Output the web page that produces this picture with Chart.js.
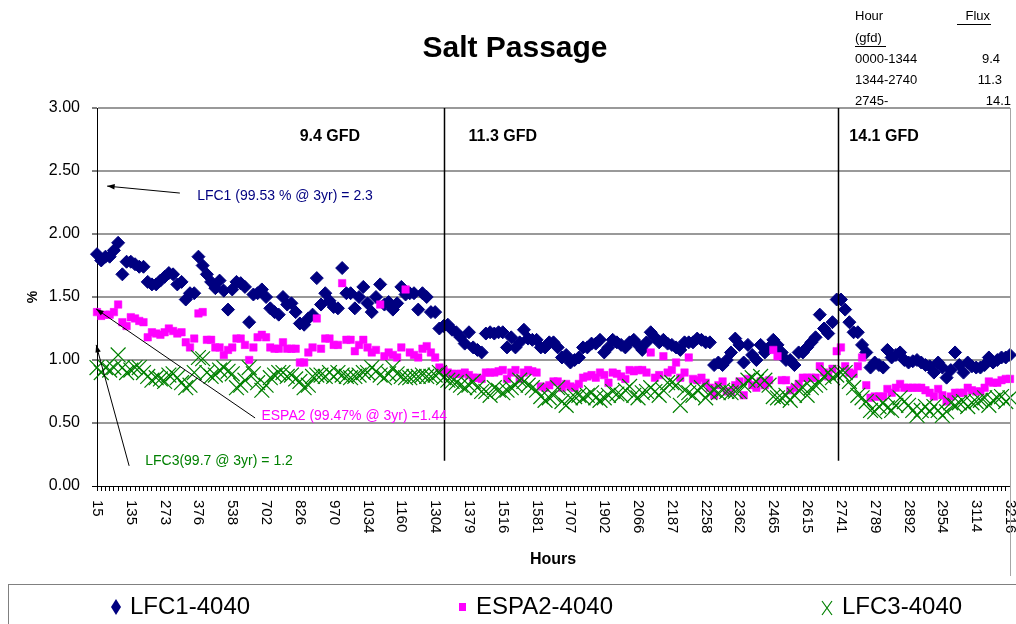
<!DOCTYPE html>
<html>
<head>
<meta charset="utf-8">
<title>Salt Passage</title>
<script src="https://cdn.jsdelivr.net/npm/chart.js@4.4.1/dist/chart.umd.min.js"></script>
<style>
  html, body { margin: 0; padding: 0; background: #fff; }
  #wrap { position: relative; width: 1016px; height: 624px; overflow: hidden; font-family: Arial, "Liberation Sans", sans-serif; }
  #legend { position: absolute; left: 8px; top: 584px; width: 1020px; height: 60px; border: 1px solid #808080; box-sizing: border-box; }
  .lg-text { position: absolute; top: 7px; font-size: 24px; line-height: 28px; color: #000; white-space: nowrap; }
  .lg-mark { position: absolute; }
</style>
</head>
<body>
<div id="wrap">
  <canvas id="chart" width="1016" height="624"></canvas>
  <div id="legend">
    <svg class="lg-mark" style="left:102px;top:14px" width="10" height="16"><polygon points="5,0 10,8 5,16 0,8" fill="#000080"/></svg>
    <span class="lg-text" style="left:121px">LFC1-4040</span>
    <svg class="lg-mark" style="left:450px;top:18px" width="7" height="8"><rect x="0" y="0" width="7" height="8" fill="#ff00ff"/></svg>
    <span class="lg-text" style="left:467px">ESPA2-4040</span>
    <svg class="lg-mark" style="left:812px;top:15px" width="12" height="16"><path d="M1 1 L11 15 M11 1 L1 15" stroke="#008000" stroke-width="1.2" fill="none"/></svg>
    <span class="lg-text" style="left:833px">LFC3-4040</span>
  </div>
</div>
<script>
// hour labels shown on the x axis, one every LABEL_STEP samples
const hourLabels = ['15', '135', '273', '376', '538', '702', '826', '970', '1034', '1160', '1304', '1379', '1516', '1581',
  '1707', '1902', '2066', '2187', '2258', '2362', '2465', '2615', '2741', '2789', '2892', '2954', '3114', '3216'];
const LABEL_STEP = 8;

// salt passage (%) per sample
const lfc1 = [
  1.84, 1.79, 1.82, 1.82, 1.87, 1.93, 1.68, 1.78,
  1.78, 1.76, 1.74, 1.74, 1.62, 1.60, 1.60, 1.63,
  1.66, 1.69, 1.68, 1.60, 1.62, 1.48, 1.53, 1.53,
  1.82, 1.75, 1.68, 1.62, 1.57, 1.63, 1.55, 1.40,
  1.56, 1.62, 1.61, 1.58, 1.30, 1.52, 1.53, 1.56,
  1.50, 1.41, 1.38, 1.36, 1.50, 1.44, 1.45, 1.38,
  1.29, 1.28, 1.33, 1.36, 1.65, 1.44, 1.53, 1.47,
  1.42, 1.41, 1.73, 1.53, 1.53, 1.41, 1.50, 1.58,
  1.45, 1.38, 1.50, 1.60, 1.44, 1.46, 1.40, 1.45,
  1.58, 1.52, 1.53, 1.53, 1.40, 1.53, 1.50, 1.38,
  1.38, 1.25, 1.27, 1.28, 1.24, 1.22, 1.18, 1.13,
  1.22, 1.10, 1.08, 1.06, 1.21, 1.22, 1.21, 1.22,
  1.22, 1.10, 1.18, 1.10, 1.14, 1.24, 1.17, 1.16,
  1.16, 1.10, 1.10, 1.14, 1.14, 1.10, 1.02, 1.04,
  0.98, 1.00, 1.02, 1.10, 1.10, 1.13, 1.13, 1.16,
  1.06, 1.10, 1.16, 1.14, 1.12, 1.10, 1.14, 1.16,
  1.12, 1.08, 1.14, 1.22, 1.18, 1.14, 1.16, 1.13,
  1.12, 1.10, 1.08, 1.14, 1.14, 1.14, 1.17, 1.16,
  1.14, 1.14, 0.96, 0.98, 0.96, 1.00, 1.06, 1.17,
  1.12, 0.98, 1.12, 1.04, 1.00, 1.12, 1.06, 1.10,
  1.16, 1.12, 1.06, 1.00, 1.00, 0.96, 1.06, 1.06,
  1.10, 1.14, 1.18, 1.36, 1.25, 1.21, 1.30, 1.48,
  1.48, 1.40, 1.30, 1.22, 1.22, 1.12, 1.06, 0.94,
  0.98, 0.96, 0.94, 1.08, 1.02, 1.04, 1.06, 1.00,
  0.98, 0.99, 1.00, 0.98, 0.96, 0.95, 0.90, 0.98,
  0.94, 0.86, 0.92, 1.06, 0.96, 0.90, 0.98, 0.95,
  0.94, 0.94, 0.96, 1.02, 0.98, 1.00, 1.02, 1.02,
  1.04
];
const espa2 = [
  1.38, 1.35, 1.36, 1.36, 1.38, 1.44, 1.30, 1.27,
  1.34, 1.33, 1.31, 1.30, 1.18, 1.22, 1.21, 1.20,
  1.22, 1.25, 1.23, 1.21, 1.22, 1.14, 1.10, 1.17,
  1.37, 1.38, 1.16, 1.16, 1.10, 1.10, 1.04, 1.08,
  1.10, 1.17, 1.17, 1.12, 1.00, 1.10, 1.18, 1.20,
  1.18, 1.10, 1.09, 1.09, 1.14, 1.09, 1.09, 1.09,
  0.98, 0.98, 1.06, 1.10, 1.33, 1.09, 1.17, 1.17,
  1.12, 1.12, 1.61, 1.16, 1.16, 1.07, 1.12, 1.16,
  1.10, 1.06, 1.08, 1.44, 1.03, 1.06, 1.04, 1.02,
  1.10, 1.56, 1.06, 1.04, 1.02, 1.09, 1.11, 1.06,
  1.02, 0.94, 0.92, 0.90, 0.89, 0.89, 0.89, 0.90,
  0.88, 0.86, 0.86, 0.85, 0.90, 0.90, 0.90, 0.91,
  0.92, 0.85, 0.90, 0.92, 0.85, 0.90, 0.92, 0.91,
  0.90, 0.79, 0.78, 0.80, 0.83, 0.83, 0.78, 0.81,
  0.79, 0.78, 0.81, 0.86, 0.87, 0.88, 0.86, 0.90,
  0.88, 0.82, 0.90, 0.89, 0.87, 0.85, 0.92, 0.91,
  0.92, 0.92, 0.90, 1.06, 0.86, 0.88, 1.03, 0.90,
  0.92, 0.98, 0.86, 0.90, 1.02, 0.85, 0.84, 0.86,
  0.82, 0.78, 0.72, 0.80, 0.83, 0.75, 0.75, 0.80,
  0.83, 0.72, 0.85, 0.80, 0.78, 0.83, 0.80, 0.84,
  1.08, 1.03, 0.84, 0.84, 0.76, 0.78, 0.81, 0.86,
  0.86, 0.86, 0.86, 0.95, 0.90, 0.87, 0.93, 1.07,
  1.10, 0.95, 0.90, 0.89, 0.95, 1.02, 0.80, 0.70,
  0.71, 0.71, 0.71, 0.77, 0.74, 0.78, 0.81, 0.78,
  0.78, 0.78, 0.78, 0.78, 0.76, 0.74, 0.71, 0.77,
  0.72, 0.67, 0.71, 0.74, 0.74, 0.74, 0.78, 0.76,
  0.75, 0.75, 0.78, 0.83, 0.82, 0.82, 0.84, 0.85,
  0.85
];
const lfc3 = [
  0.94, 0.90, 0.94, 0.92, 0.94, 1.04, 0.94, 0.90,
  0.92, 0.94, 0.94, 0.90, 0.87, 0.84, 0.86, 0.85,
  0.83, 0.88, 0.89, 0.86, 0.82, 0.78, 0.80, 0.90,
  1.02, 1.01, 0.90, 0.87, 0.88, 0.92, 0.94, 0.91,
  0.89, 0.78, 0.80, 0.84, 0.94, 0.89, 0.82, 0.76,
  0.80, 0.86, 0.88, 0.90, 0.90, 0.87, 0.88, 0.85,
  0.83, 0.78, 0.80, 0.87, 0.88, 0.88, 0.87, 0.90,
  0.87, 0.90, 0.88, 0.87, 0.86, 0.87, 0.88, 0.90,
  0.90, 0.94, 0.91, 0.88, 0.86, 0.89, 0.94, 0.89,
  0.87, 0.86, 0.86, 0.87, 0.87, 0.88, 0.87, 0.87,
  0.88, 0.90, 0.86, 0.84, 0.83, 0.82, 0.80, 0.78,
  0.80, 0.83, 0.78, 0.75, 0.75, 0.72, 0.78, 0.76,
  0.74, 0.76, 0.78, 0.80, 0.84, 0.83, 0.80, 0.78,
  0.76, 0.71, 0.68, 0.70, 0.72, 0.78, 0.67, 0.64,
  0.70, 0.71, 0.72, 0.70, 0.72, 0.74, 0.70, 0.68,
  0.70, 0.72, 0.75, 0.73, 0.72, 0.76, 0.79, 0.72,
  0.70, 0.74, 0.75, 0.78, 0.75, 0.72, 0.76, 0.82,
  0.82, 0.80, 0.64, 0.76, 0.74, 0.72, 0.76, 0.78,
  0.70, 0.74, 0.76, 0.74, 0.76, 0.75, 0.74, 0.75,
  0.75, 0.80, 0.84, 0.86, 0.83, 0.87, 0.84, 0.80,
  0.71, 0.70, 0.70, 0.72, 0.68, 0.72, 0.76, 0.78,
  0.72, 0.78, 0.80, 0.82, 0.87, 0.90, 0.86, 0.88,
  0.90, 0.90, 0.83, 0.78, 0.72, 0.70, 0.67, 0.60,
  0.59, 0.63, 0.66, 0.62, 0.60, 0.64, 0.70, 0.67,
  0.64, 0.60, 0.56, 0.60, 0.63, 0.59, 0.63, 0.60,
  0.56, 0.59, 0.66, 0.64, 0.66, 0.67, 0.63, 0.66,
  0.67, 0.68, 0.70, 0.64, 0.68, 0.70, 0.71, 0.67,
  0.70
];

// flux table (top right) and zone headings
const fluxHeader = ['Hour', 'Flux', '(gfd)'];
const fluxRows = [['0000-1344', '9.4'], ['1344-2740', '11.3'], ['2745-', '14.1']];
const zoneLabels = ['9.4 GFD', '11.3 GFD', '14.1 GFD'];
const notes = ['LFC1 (99.53 % @ 3yr) = 2.3', 'ESPA2 (99.47% @ 3yr) =1.44', 'LFC3(99.7 @ 3yr) = 1.2'];

const categories = lfc1.map((_, i) => (i % LABEL_STEP === 0 ? hourLabels[i / LABEL_STEP] : ''));

const FONT = 'Arial, "Liberation Sans", sans-serif';

function arrow(ctx, x1, y1, x2, y2) {
  const a = Math.atan2(y2 - y1, x2 - x1);
  ctx.beginPath();
  ctx.moveTo(x1, y1);
  ctx.lineTo(x2, y2);
  ctx.stroke();
  ctx.beginPath();
  ctx.moveTo(x2, y2);
  ctx.lineTo(x2 - 8 * Math.cos(a - 0.35), y2 - 8 * Math.sin(a - 0.35));
  ctx.lineTo(x2 - 8 * Math.cos(a + 0.35), y2 - 8 * Math.sin(a + 0.35));
  ctx.closePath();
  ctx.fill();
}

const decorations = {
  id: 'decorations',
  beforeDraw(chart) {
    const { ctx } = chart;
    ctx.save();
    ctx.fillStyle = '#fff';
    ctx.fillRect(0, 0, chart.width, chart.height);

    ctx.fillStyle = '#000';
    ctx.font = 'bold 30px ' + FONT;
    ctx.textAlign = 'center';
    ctx.textBaseline = 'middle';
    ctx.fillText('Salt Passage', 515, 49);

    // flux table
    ctx.font = '13px ' + FONT;
    ctx.textAlign = 'left';
    ctx.fillText(fluxHeader[0], 855, 16);
    ctx.fillText(fluxHeader[2], 855, 38);
    ctx.textAlign = 'right';
    ctx.fillText(fluxHeader[1], 990, 16);
    ctx.fillRect(957, 24, 34, 1);
    ctx.fillRect(855, 46, 31, 1);
    const rowY = [59, 80, 101];
    const fluxRight = [1000, 1002, 1011];
    fluxRows.forEach((r, k) => {
      ctx.textAlign = 'left';
      ctx.fillText(r[0], 855, rowY[k]);
      ctx.textAlign = 'right';
      ctx.fillText(r[1], fluxRight[k], rowY[k]);
    });
    ctx.restore();
  },
  afterDraw(chart) {
    const { ctx, chartArea } = chart;
    const xs = chart.scales.x;
    const ys = chart.scales.y;
    const px = (i) => xs.getPixelForValue(i);
    const py = (v) => ys.getPixelForValue(v);
    ctx.save();

    // x tick labels, turned clockwise like the original
    ctx.fillStyle = '#000';
    ctx.font = '15px ' + FONT;
    ctx.textAlign = 'left';
    ctx.textBaseline = 'middle';
    hourLabels.forEach((lab, k) => {
      ctx.save();
      ctx.translate(Math.round(px(k * LABEL_STEP)), chartArea.bottom + 14);
      ctx.rotate(Math.PI / 2);
      ctx.fillText(lab, 0, 0);
      ctx.restore();
    });

    // axis titles
    ctx.font = 'bold 16px ' + FONT;
    ctx.textAlign = 'center';
    ctx.fillText('Hours', 553, 560);
    ctx.save();
    ctx.translate(33, 297);
    ctx.rotate(-Math.PI / 2);
    ctx.font = 'bold 14px ' + FONT;
    ctx.fillText('%', 0, 0);
    ctx.restore();

    // right frame line
    ctx.strokeStyle = '#a6a6a6';
    ctx.lineWidth = 1;
    ctx.beginPath();
    ctx.moveTo(chartArea.right + 0.5, chartArea.top);
    ctx.lineTo(chartArea.right + 0.5, 576);
    ctx.stroke();

    // flux change markers
    ctx.strokeStyle = '#000';
    ctx.lineWidth = 1.5;
    [82, 175.4].forEach((i) => {
      const x = Math.round(px(i)) + 0.5;
      ctx.beginPath();
      ctx.moveTo(x, chartArea.top);
      ctx.lineTo(x, py(0.2));
      ctx.stroke();
    });
    ctx.font = 'bold 16px ' + FONT;
    ctx.textAlign = 'center';
    [55.1, 96, 186.2].forEach((i, k) => ctx.fillText(zoneLabels[k], px(i), py(2.77)));

    // 3 year notes with arrows
    ctx.font = '14px ' + FONT;
    ctx.textAlign = 'left';
    ctx.lineWidth = 1;
    ctx.fillStyle = '#000080';
    ctx.fillText(notes[0], px(23.7), py(2.30));
    ctx.fillStyle = '#ff00ff';
    ctx.fillText(notes[1], px(38.9), py(0.555));
    ctx.fillStyle = '#008000';
    ctx.fillText(notes[2], px(11.4), py(0.195));
    ctx.fillStyle = '#000';
    ctx.strokeStyle = '#000';
    arrow(ctx, px(19.6), py(2.325), px(2.4), py(2.38));
    arrow(ctx, px(37.4), py(0.54), px(-0.2), py(1.405));
    arrow(ctx, px(7.6), py(0.16), px(-0.2), py(1.12));
    ctx.restore();
  }
};

new Chart(document.getElementById('chart'), {
  type: 'line',
  data: {
    labels: categories,
    datasets: [
      {
        label: 'LFC1-4040',
        data: lfc1,
        showLine: false,
        pointStyle: 'rectRot',
        pointRadius: 6.5,
        pointBackgroundColor: '#000080',
        pointBorderColor: '#000080',
        pointBorderWidth: 1,
        order: 3
      },
      {
        label: 'ESPA2-4040',
        data: espa2,
        showLine: false,
        pointStyle: 'rect',
        pointRadius: 5.3,
        pointBackgroundColor: '#ff00ff',
        pointBorderColor: '#ff00ff',
        pointBorderWidth: 0.5,
        order: 2
      },
      {
        label: 'LFC3-4040',
        data: lfc3,
        showLine: false,
        pointStyle: 'crossRot',
        pointRadius: 10.5,
        pointBackgroundColor: '#008000',
        pointBorderColor: '#008000',
        pointBorderWidth: 1.2,
        order: 1
      }
    ]
  },
  options: {
    responsive: false,
    animation: false,
    devicePixelRatio: 1,
    layout: { autoPadding: false, padding: { top: 108, right: 6, bottom: 78, left: 0 } },
    plugins: {
      legend: { display: false },
      title: { display: false },
      tooltip: { enabled: false }
    },
    scales: {
      x: {
        type: 'category',
        offset: false,
        ticks: { display: false, autoSkip: false },
        grid: { display: true, drawOnChartArea: false, drawTicks: true, tickLength: 5, tickColor: '#000', tickWidth: 1 },
        border: { display: true, color: '#000', width: 1 },
        afterFit(scale) {
          scale.height = 60;
          scale.paddingLeft = 0;
          scale.paddingRight = 0;
        }
      },
      y: {
        min: 0,
        max: 3,
        ticks: {
          stepSize: 0.5,
          padding: 12,
          color: '#000',
          font: { family: FONT, size: 16 },
          callback: (v) => Number(v).toFixed(2)
        },
        grid: {
          color: (c) => (c.tick && c.tick.value === 0 ? '#000' : '#999'),
          lineWidth: (c) => (c.tick && c.tick.value === 0 ? 1 : 2),
          tickLength: 5,
          tickColor: '#000',
          tickWidth: 1
        },
        border: { display: true, color: '#000', width: 1 },
        afterFit(scale) {
          scale.width = 97;
        }
      }
    }
  },
  plugins: [decorations]
});
</script>
</body>
</html>
